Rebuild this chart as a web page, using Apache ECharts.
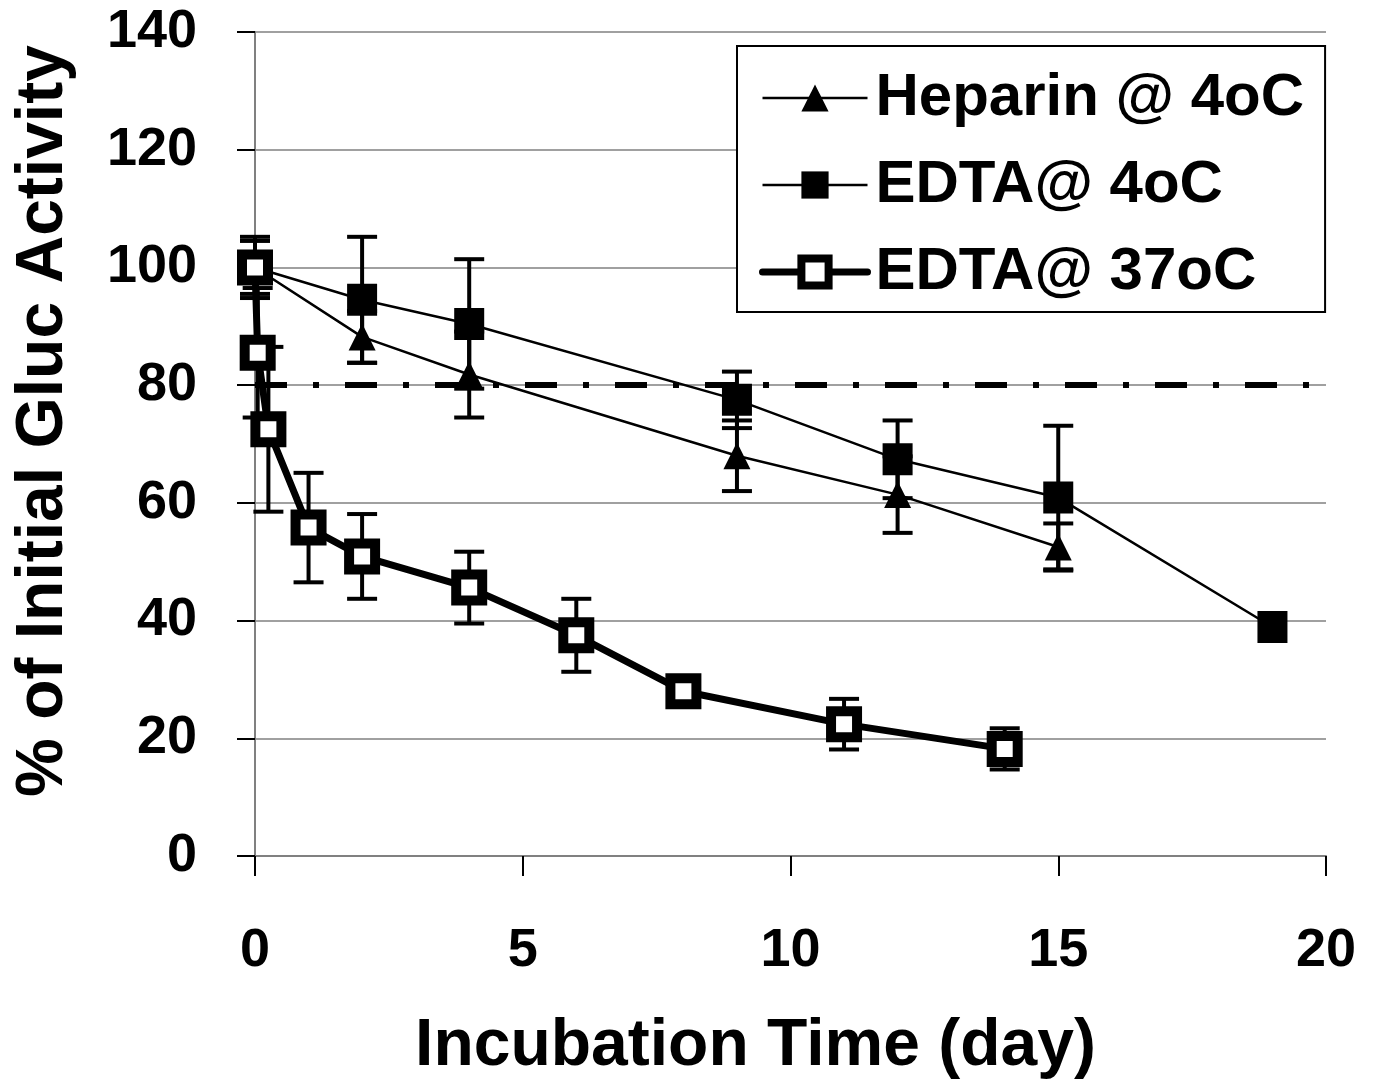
<!DOCTYPE html>
<html>
<head>
<meta charset="utf-8">
<script src="https://cdn.jsdelivr.net/npm/echarts@6/dist/echarts.min.js"></script>
<style>
  html, body { margin: 0; padding: 0; background: #fff; }
  #chart { width: 1374px; height: 1085px; }
</style>
</head>
<body>
<div id="chart"></div>
<script>
// 数据：近似值
const hepTime = [0, 2, 4, 9, 12, 15];
const hepVal = [100, 88.2, 81.8, 68, 61.4, 52.5];
const hepErr = [0, 4.4, 7.3, 6, 6.5, 4];

const e4Time = [0, 2, 4, 9, 12, 15, 19];
const e4Val = [100, 94.5, 90.4, 77.5, 67.4, 60.9, 38.9];
const e4Err = [4.5, 10.7, 11, 4.8, 6.6, 12.2, 0];

const e37Time = [0, 0.05, 0.25, 1, 2, 4, 6, 8, 11, 14];
const e37Val = [100, 85.5, 72.5, 55.8, 50.9, 45.6, 37.5, 28.0, 22.4, 18.2];
const e37Err = [5.2, 11, 14, 9.3, 7.2, 6.1, 6.2, 0.8, 4.3, 3.5];

const xTicks = [0, 5, 10, 15, 20];
const yTicks = [0, 20, 40, 60, 80, 100, 120, 140];
const refLine = 80;

const seriesNames = ["Heparin @ 4oC", "EDTA@ 4oC", "EDTA@ 37oC"];

const FONT = "'Liberation Sans', Arial, sans-serif";

const pairs = (xs, ys) => xs.map((x, i) => [x, ys[i]]);
const errData = (xs, ys, es) =>
  xs.map((x, i) => [x, ys[i] - es[i], ys[i] + es[i], es[i]]).filter((d) => d[3] > 0);

// 误差线
const renderErr = (params, api) => {
  const x = api.value(0);
  const lo = api.coord([x, api.value(1)]);
  const hi = api.coord([x, api.value(2)]);
  const w = 15;
  const style = { stroke: "#000", lineWidth: 4 };
  return {
    type: "group",
    children: [
      { type: "line", shape: { x1: lo[0], y1: lo[1], x2: hi[0], y2: hi[1] }, style },
      { type: "line", shape: { x1: lo[0] - w, y1: lo[1], x2: lo[0] + w, y2: lo[1] }, style },
      { type: "line", shape: { x1: hi[0] - w, y1: hi[1], x2: hi[0] + w, y2: hi[1] }, style },
    ],
  };
};

const errSeries = (data) => ({
  type: "custom",
  renderItem: renderErr,
  data: data,
  encode: { x: 0, y: [1, 2] },
  silent: true,
  z: 1,
});

const chart = echarts.init(document.getElementById("chart"));
chart.setOption({
  animation: false,
  backgroundColor: "#fff",
  textStyle: { fontFamily: FONT },
  grid: { left: 255, right: 48, top: 32, bottom: 228, containLabel: false },
  legend: {
    left: 737,
    top: 46,
    orient: "vertical",
    backgroundColor: "#fff",
    borderColor: "#000",
    borderWidth: 2,
    borderRadius: 0,
    padding: [22, 21, 10, 22],
    itemWidth: 105,
    itemHeight: 34,
    itemGap: 27,
    textStyle: { fontFamily: FONT, fontWeight: "bold", fontSize: 60, color: "#000", padding: [0, 0, 0, 3] },
    data: [
      { name: seriesNames[0], lineStyle: { width: 2.5, color: "#000" }, itemStyle: { borderWidth: 0 } },
      { name: seriesNames[1], lineStyle: { width: 2.5, color: "#000" }, itemStyle: { borderWidth: 0 } },
      { name: seriesNames[2], lineStyle: { width: 7, color: "#000", cap: "round" }, itemStyle: { borderWidth: 8, borderColor: "#000", color: "#fff" } },
    ],
  },
  xAxis: {
    type: "value",
    min: 0,
    max: 20,
    interval: 5,
    name: "Incubation Time (day)",
    nameLocation: "middle",
    nameGap: 158,
    nameTextStyle: { fontFamily: FONT, fontWeight: "bold", fontSize: 66, color: "#000", padding: [0, 70, 0, 0] },
    axisLine: { show: true, lineStyle: { color: "#808080", width: 2 } },
    axisTick: { show: true, inside: false, length: 20, lineStyle: { color: "#000", width: 2 } },
    axisLabel: { margin: 68, fontFamily: FONT, fontWeight: "bold", fontSize: 54, color: "#000",
      formatter: (v) => (xTicks.includes(v) ? String(v) : "") },
    splitLine: { show: false },
  },
  yAxis: {
    type: "value",
    min: 0,
    max: 140,
    interval: 20,
    name: "% of Initial Gluc Activity",
    nameLocation: "middle",
    nameGap: 178,
    nameRotate: 90,
    nameTextStyle: { fontFamily: FONT, fontWeight: "bold", fontSize: 66, color: "#000", padding: [0, 0, 0, 46] },
    axisLine: { show: true, lineStyle: { color: "#808080", width: 2 } },
    axisTick: { show: true, inside: false, length: 18, lineStyle: { color: "#000", width: 2 } },
    axisLabel: { margin: 58, fontFamily: FONT, fontWeight: "bold", fontSize: 54, color: "#000",
      formatter: (v) => (yTicks.includes(v) ? String(v) : "") },
    splitLine: { show: true, lineStyle: { color: "#a0a0a0", width: 2 } },
  },
  series: [
    errSeries(errData(hepTime, hepVal, hepErr)),
    errSeries(errData(e4Time, e4Val, e4Err)),
    errSeries(errData(e37Time, e37Val, e37Err)),
    {
      name: seriesNames[0],
      type: "line",
      data: pairs(hepTime, hepVal),
      symbol: "triangle",
      symbolSize: 27,
      lineStyle: { color: "#000", width: 2.5 },
      itemStyle: { color: "#000" },
      z: 3,
    },
    {
      name: seriesNames[1],
      type: "line",
      data: pairs(e4Time, e4Val),
      symbol: "rect",
      symbolSize: [30, 32],
      lineStyle: { color: "#000", width: 2.5 },
      itemStyle: { color: "#000" },
      z: 3,
      markLine: {
        silent: true,
        symbol: "none",
        label: { show: false },
        lineStyle: { color: "#000", width: 6, type: [32, 26, 6, 26], cap: "butt" },
        data: [{ yAxis: refLine }],
      },
    },
    {
      name: seriesNames[2],
      type: "line",
      data: pairs(e37Time, e37Val),
      symbol: "rect",
      symbolSize: 26,
      lineStyle: { color: "#000", width: 7 },
      itemStyle: { color: "#fff", borderColor: "#000", borderWidth: 10 },
      z: 4,
    },
  ],
});
</script>
</body>
</html>
